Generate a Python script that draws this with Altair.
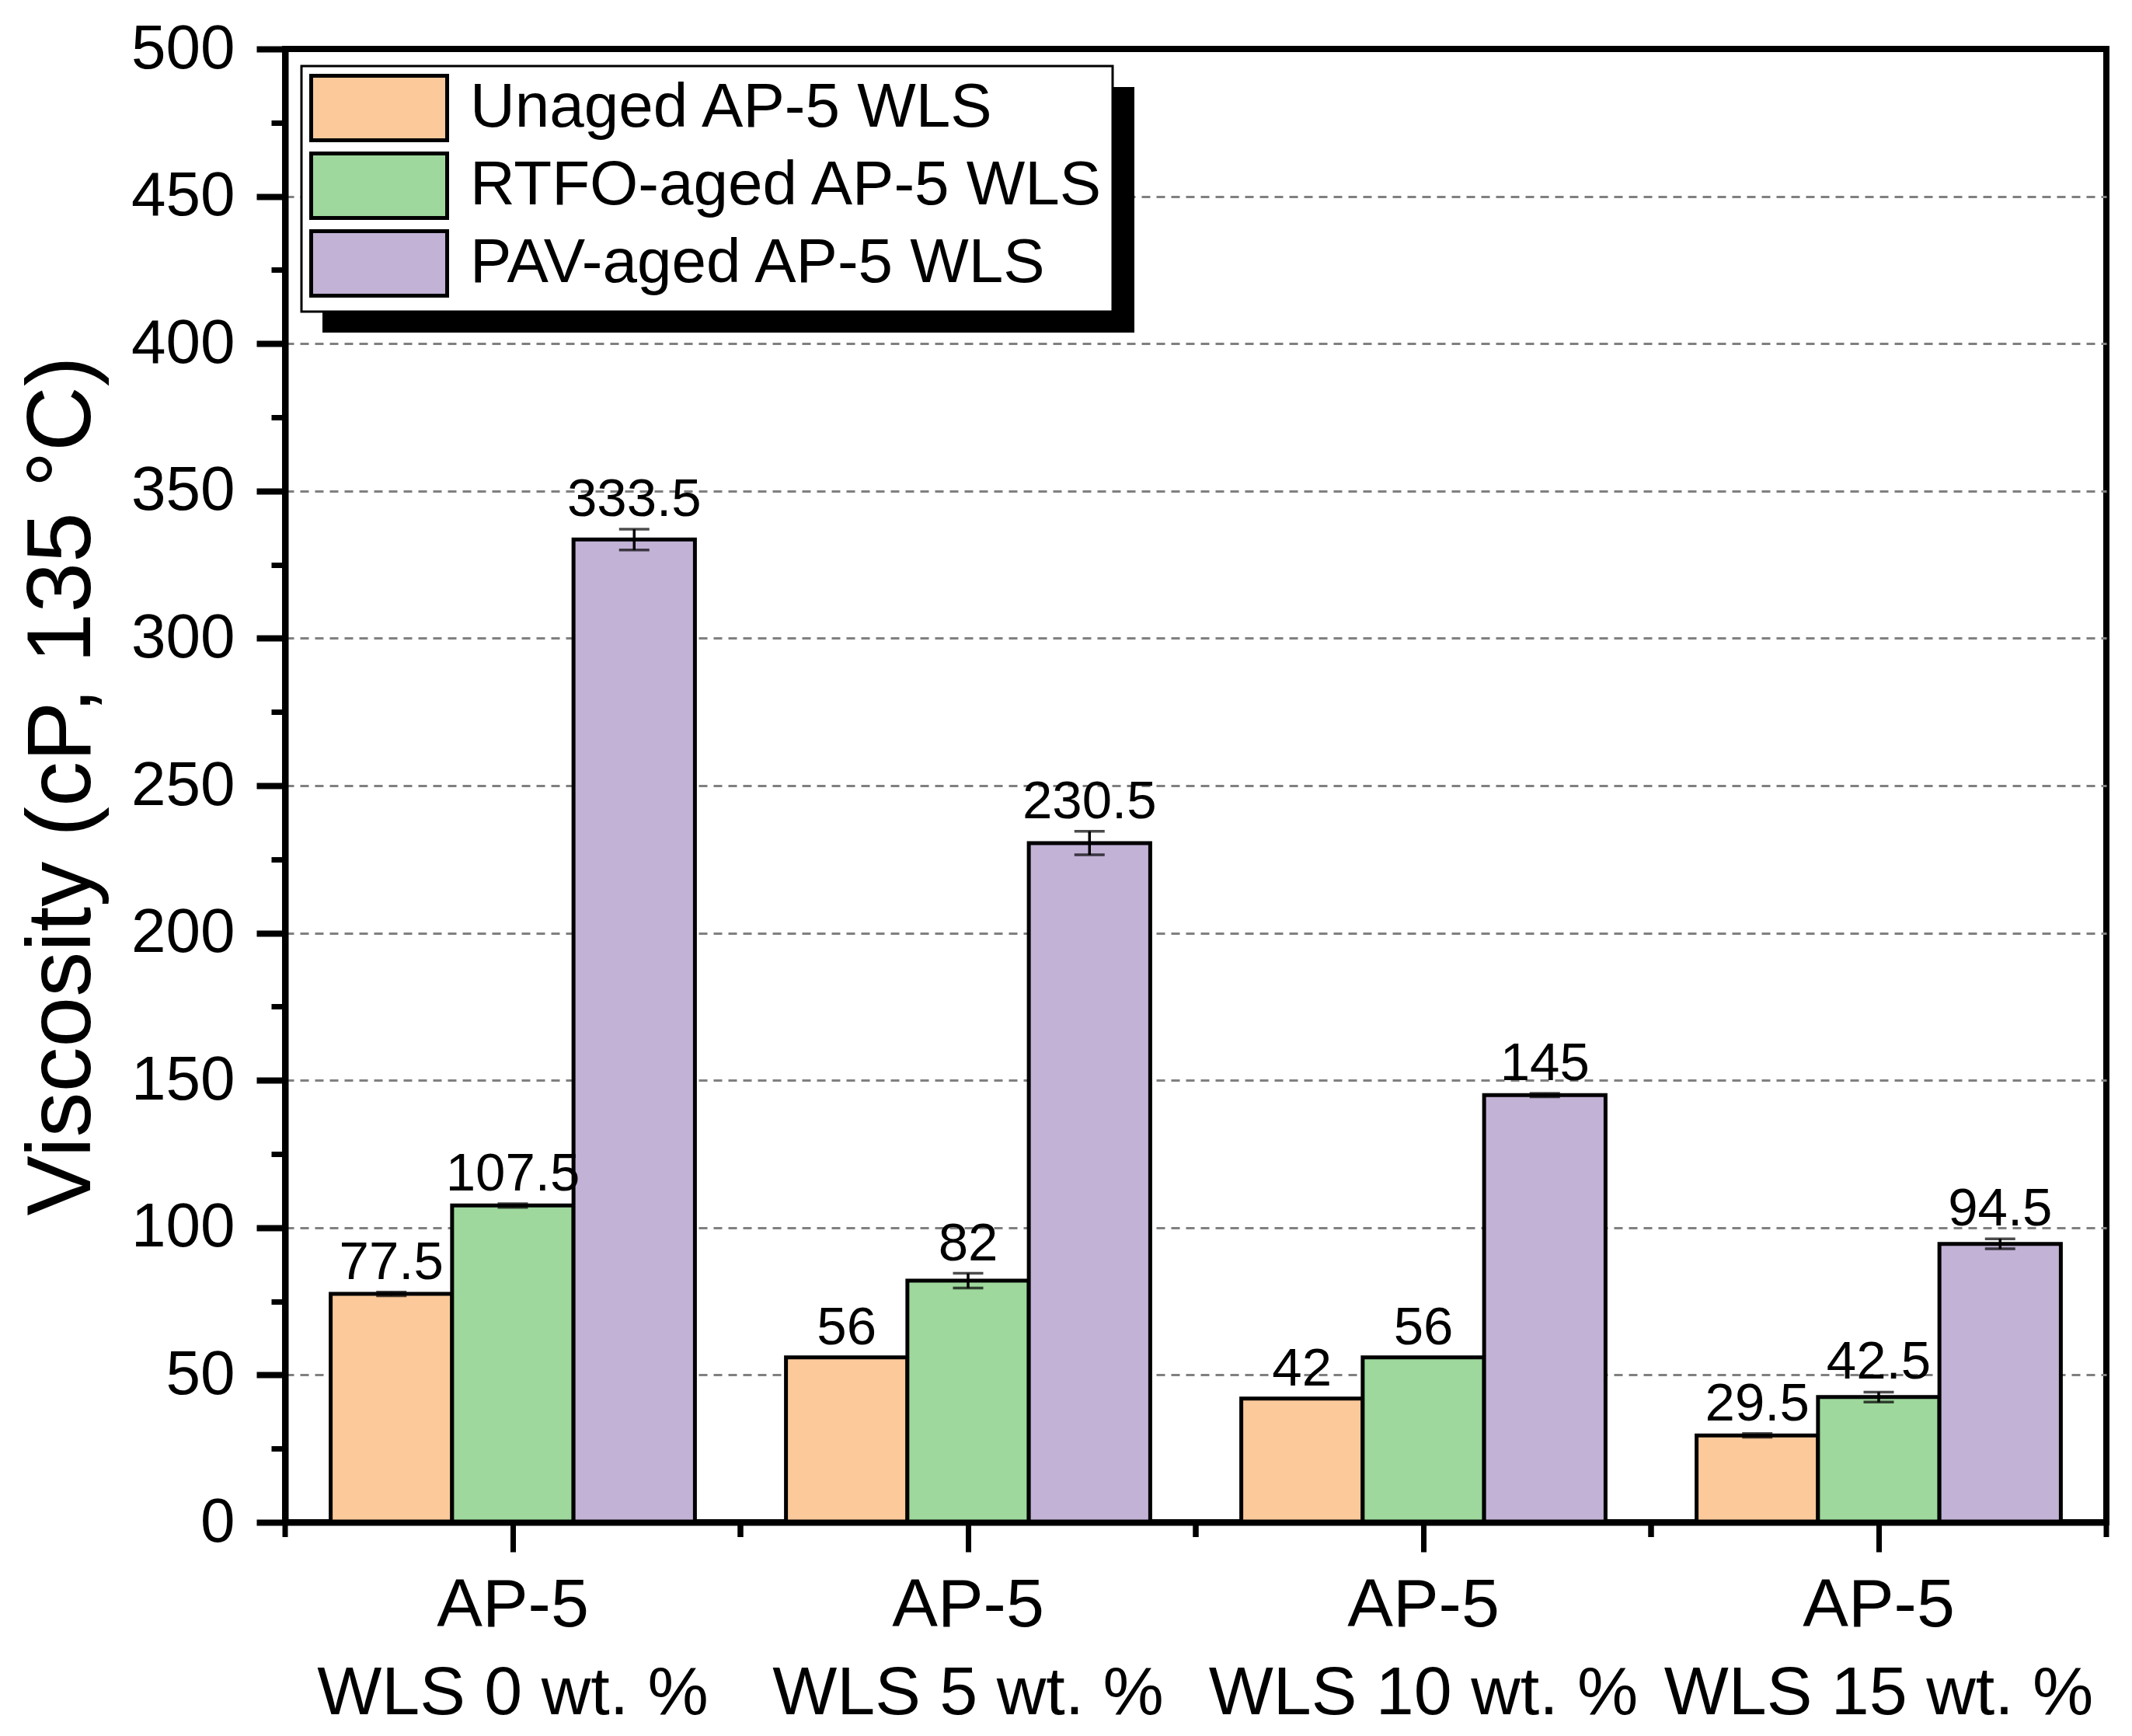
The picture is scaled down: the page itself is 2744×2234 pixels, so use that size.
import altair as alt
import pandas as pd

# ---- data ----
groups = ["AP-5\nWLS 0 wt. %", "AP-5\nWLS 5 wt. %", "AP-5\nWLS 10 wt. %", "AP-5\nWLS 15 wt. %"]
series = ["Unaged AP-5 WLS", "RTFO-aged AP-5 WLS", "PAV-aged AP-5 WLS"]
colors = ["#FBC99A", "#9ED89C", "#C2B2D6"]
unaged = [77.5, 56, 42, 29.5]
rtfo = [107.5, 82, 56, 42.5]
pav = [333.5, 230.5, 145, 94.5]
unaged_err = [0.6, 0.0, 0.0, 0.6]
rtfo_err = [0.6, 2.5, 0.0, 1.7]
pav_err = [3.5, 4.0, 0.6, 1.7]
y_ticks = list(range(0, 501, 50))
y_grid = list(range(50, 451, 50))
y_minor = list(range(25, 500, 50))

rows = []
for gi, g in enumerate(groups):
    for s, vals, errs in zip(series, [unaged, rtfo, pav], [unaged_err, rtfo_err, pav_err]):
        v = vals[gi]
        e = errs[gi]
        rows.append({"group": g, "aging": s, "value": v, "lo": v - e, "hi": v + e})
df = pd.DataFrame(rows)
gdf = pd.DataFrame({"group": groups})

W, H = 2344, 1896
FONT = "Liberation Sans"

# legend geometry (plot-relative pixels)
LX, LY = 21, 22
LW, LH = 1045, 316
SH = 27

x_main = alt.X(
    "group:N", sort=groups, title=None,
    scale=alt.Scale(paddingInner=0, paddingOuter=0),
    axis=alt.Axis(
        labelExpr="split(datum.label, '\\n')", labelAngle=0, labelFontSize=88, labelFont=FONT,
        labelColor="black", labelPadding=25, labelLineHeight=113, labelBaseline="top",
        labelLimit=2000, tickSize=38, tickWidth=7, tickColor="black",
        domainColor="black", domainWidth=8, grid=False, zindex=1,
    ),
)
x_plain = alt.X("group:N", sort=groups, title=None)
xoff = alt.XOffset("aging:N", sort=series, scale=alt.Scale(paddingInner=0, paddingOuter=0.375))
xoff2 = alt.XOffset("aging:N", sort=series)

y_main = alt.Y(
    "value:Q", title="Viscosity (cP, 135 °C)",
    scale=alt.Scale(domain=[0, 500], nice=False),
    axis=alt.Axis(
        orient="left", values=y_ticks, labelFontSize=80, labelFont=FONT, labelColor="black",
        labelPadding=28, tickSize=37, tickWidth=8, tickColor="black",
        domainColor="black", domainWidth=8, grid=False,
        titleFontSize=116, titleFont=FONT, titleFontWeight="normal", titleColor="black",
        titleAngle=270, titleX=-252, titleBaseline="alphabetic",
    ),
)

minor_axis = alt.Axis(
    orient="left", values=y_minor, labels=False, domain=False, grid=False,
    ticks=True, tickSize=18, tickWidth=7, tickColor="black", title=None,
)
grid_axis = alt.Axis(
    orient="left", values=y_grid, labels=False, domain=False, ticks=False,
    grid=True, gridColor="#808080", gridDash=[11, 8], gridWidth=3, title=None,
)

legend = alt.Legend(
    title=None, orient="none", legendX=LX, legendY=LY, direction="vertical",
    padding=10, fillColor="white", strokeColor="black", cornerRadius=0,
    symbolType="M-1,-1H3.217V1H-1Z", symbolSize=6889, symbolStrokeColor="black",
    symbolStrokeWidth=5, symbolOpacity=1,
    labelFont=FONT, labelFontSize=80, labelColor="black", labelOffset=119,
    labelLimit=2000, rowPadding=-4,
)

bars = alt.Chart(df).mark_bar(stroke="black", strokeWidth=5).encode(
    x=x_main,
    xOffset=xoff,
    y=y_main,
    color=alt.Color("aging:N", sort=series, scale=alt.Scale(domain=series, range=colors), legend=legend),
)

err_rule = alt.Chart(df).mark_rule(color="black", strokeWidth=3.5).encode(
    x=x_plain,
    xOffset=xoff2,
    y=alt.Y("lo:Q", axis=minor_axis),
    y2="hi:Q",
)

cap_lo = alt.Chart(df).mark_tick(color="black", size=39, thickness=3.5).encode(
    x=x_plain,
    xOffset=xoff2,
    y=alt.Y("lo:Q", axis=grid_axis),
)
cap_hi = alt.Chart(df).mark_tick(color="black", size=39, thickness=3.5).encode(
    x=x_plain,
    xOffset=xoff2,
    y=alt.Y("hi:Q", axis=None),
)

labels = alt.Chart(df).mark_text(
    dy=-17, baseline="alphabetic", fontSize=69, font=FONT, color="black"
).encode(
    x=x_plain,
    xOffset=xoff2,
    y=alt.Y("hi:Q", axis=None),
    text=alt.Text("value:Q", format="~g"),
)

minor_x0 = alt.Chart(gdf).mark_rule(color="black", strokeWidth=7).encode(
    x=alt.X("group:N", sort=groups, bandPosition=0, title=None),
    y=alt.value(H),
    y2=alt.value(H + 19),
)
minor_x1 = alt.Chart(gdf).mark_rule(color="black", strokeWidth=7).encode(
    x=alt.X("group:N", sort=groups, bandPosition=1, title=None),
    y=alt.value(H),
    y2=alt.value(H + 19),
)

shadow = alt.Chart(pd.DataFrame({"k": [0]})).mark_rect(color="black").encode(
    x=alt.value(LX + SH), x2=alt.value(LX + SH + LW),
    y=alt.value(LY + SH), y2=alt.value(LY + SH + LH),
)

chart = (
    alt.layer(bars, err_rule, cap_lo, cap_hi, labels, minor_x0, minor_x1, shadow)
    .resolve_axis(y="independent")
    .properties(
        width=W, height=H,
        autosize=alt.AutoSizeParams(type="none"),
        padding={"left": 359, "top": 55, "right": 25, "bottom": 267},
        background="white",
    )
    .configure_view(stroke="black", strokeWidth=8)
    .configure_legend(strokeWidth=3)
)

chart.save("out.html", embed_options={"renderer": "svg", "actions": False})
